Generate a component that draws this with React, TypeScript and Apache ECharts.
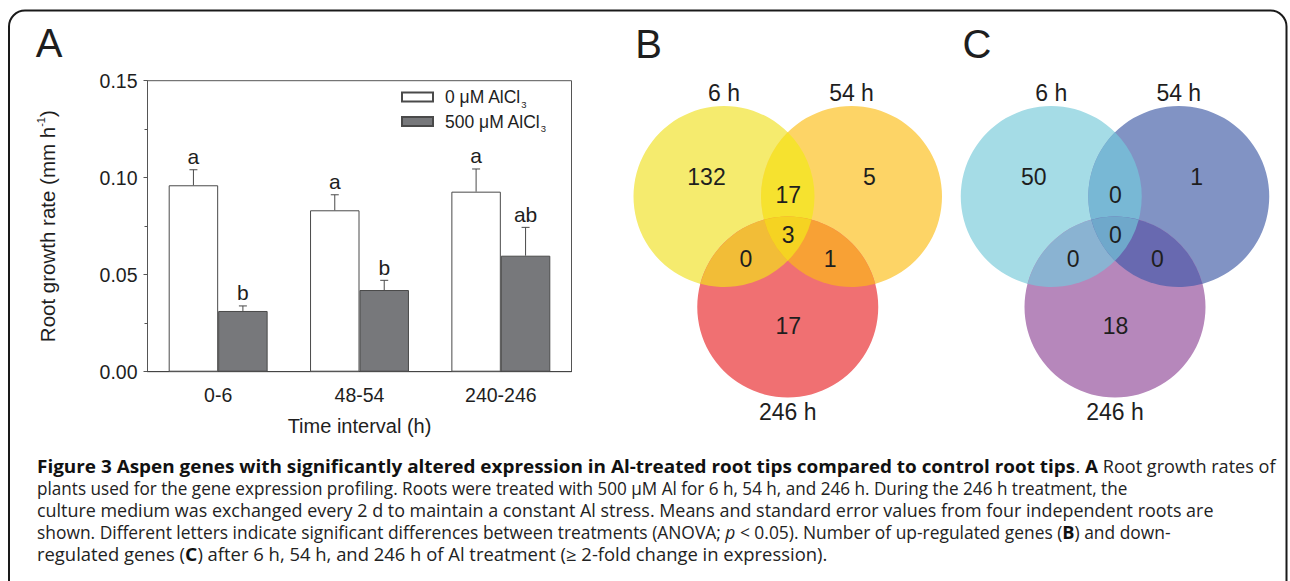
import React, { useEffect, useRef } from 'react';
import * as echarts from 'echarts';

// ---------- Panel A data ----------
const categories = ['0-6', '48-54', '240-246'];
const seriesNames = ['0 μM AlCl3', '500 μM AlCl3'];
const ctrlMean = [0.0961, 0.0832, 0.0928];
const ctrlErr = [0.008, 0.008, 0.0117];
const ctrlLetters = ['a', 'a', 'a'];
const alMean = [0.0313, 0.0421, 0.0598];
const alErr = [0.0026, 0.005, 0.0146];
const alLetters = ['b', 'b', 'ab'];
const yMin = 0;
const yMax = 0.15;
const yInterval = 0.05;

// ---------- Venn data ----------
const vennSetLabels = ['6 h', '54 h', '246 h'];
const regionKeys = ['A', 'B', 'C', 'AB', 'AC', 'BC', 'ABC'];
const upRegulated = [132, 5, 17, 17, 0, 1, 3];
const downRegulated = [50, 1, 18, 0, 0, 0, 0];
const upColors = ['#f5eb6e', '#fdd466', '#f07072', '#f6e22f', '#f2bd37', '#f8a135', '#f5d322'];
const downColors = ['#a5dce6', '#8193c4', '#b687bb', '#78b8d5', '#8ab3d2', '#6869b0', '#6fa8cb'];

// ---------- Caption ----------
const captionLines = [
  '{b|Figure 3 Aspen genes with significantly altered expression in Al-treated root tips compared to control root tips}{r|. }{b|A}{r| Root growth rates of}',
  '{r|plants used for the gene expression profiling. Roots were treated with 500 μM Al for 6 h, 54 h, and 246 h. During the 246 h treatment, the}',
  '{r|culture medium was exchanged every 2 d to maintain a constant Al stress. Means and standard error values from four independent roots are}',
  '{r|shown. Different letters indicate significant differences between treatments (ANOVA; }{i|p}{r| < 0.05). Number of up-regulated genes (}{b|B}{r|) and down-}',
  '{r|regulated genes (}{b|C}{r|) after 6 h, 54 h, and 246 h of Al treatment (≥ 2-fold change in expression).}',
];

const FONT = '"Liberation Sans", Arial, Helvetica, sans-serif';
const CAP_FONT = '"Open Sans", "Noto Sans", sans-serif';
const TXT = '#1e1e1e';
const CAP_SIZE = 17.4;
const CAP_BOLD_SIZE = 18.2;
const capY = [466, 488, 510, 532, 554];
const capScaleX = [1.04, 0.985, 1.03, 1.0, 1.06];

// layout constants
const R = 90.5;
const DX = 63.75;
const DY = 110.5;
const labelOffsets: Record<string, [number, number]> = {
  A: [-17.5, -19.5],
  B: [18, -19.5],
  C: [0.5, 19],
  AB: [0.5, -2],
  AC: [-10, 7],
  BC: [10.5, 7],
  ABC: [0.5, 1.5],
};

type P = [number, number];

function intersections(p: P, q: P): [P, P] {
  const dx = q[0] - p[0];
  const dy = q[1] - p[1];
  const d = Math.sqrt(dx * dx + dy * dy);
  const a = d / 2;
  const h = Math.sqrt(R * R - a * a);
  const mx = p[0] + dx / 2;
  const my = p[1] + dy / 2;
  const ux = -dy / d;
  const uy = dx / d;
  return [
    [mx + ux * h, my + uy * h],
    [mx - ux * h, my - uy * h],
  ];
}

function dist(a: P, b: P) {
  return Math.hypot(a[0] - b[0], a[1] - b[1]);
}

function sweep(from: P, to: P, o: P) {
  const c = (from[0] - o[0]) * (to[1] - o[1]) - (from[1] - o[1]) * (to[0] - o[0]);
  return c > 0 ? 1 : 0;
}

const f = (p: P) => `${p[0].toFixed(3)} ${p[1].toFixed(3)}`;

function lensPath(p: P, q: P) {
  const [i1, i2] = intersections(p, q);
  return `M ${f(i1)} A ${R} ${R} 0 0 ${sweep(i1, i2, p)} ${f(i2)} A ${R} ${R} 0 0 ${sweep(i2, i1, q)} ${f(i1)} Z`;
}

function nearest(pts: [P, P], ref: P): P {
  return dist(pts[0], ref) < dist(pts[1], ref) ? pts[0] : pts[1];
}

function triplePath(a: P, b: P, c: P) {
  const vAB = nearest(intersections(a, b), c);
  const vBC = nearest(intersections(b, c), a);
  const vCA = nearest(intersections(c, a), b);
  return `M ${f(vAB)} A ${R} ${R} 0 0 ${sweep(vAB, vBC, b)} ${f(vBC)} A ${R} ${R} 0 0 ${sweep(vBC, vCA, c)} ${f(vCA)} A ${R} ${R} 0 0 ${sweep(vCA, vAB, a)} ${f(vAB)} Z`;
}

function textEl(text: string, x: number, y: number, size: number, align = 'center', extra: any = {}) {
  return {
    type: 'text',
    x,
    y,
    silent: true,
    style: {
      text,
      fill: TXT,
      font: `${size}px ${FONT}`,
      fontSize: size,
      fontFamily: FONT,
      align,
      textAlign: align,
      verticalAlign: 'middle',
      textVerticalAlign: 'middle',
      ...extra,
    },
  };
}

function buildVenn(prefix: string, cx0: number, cy0: number, counts: number[], colors: string[]) {
  const A: P = [cx0 - DX, cy0];
  const B: P = [cx0 + DX, cy0];
  const C: P = [cx0, cy0 + DY];
  const centers: Record<string, P> = { A, B, C };
  const els: any[] = [];
  ['A', 'B', 'C'].forEach((k) => {
    const i = regionKeys.indexOf(k);
    els.push({
      type: 'circle',
      silent: true,
      shape: { cx: centers[k][0], cy: centers[k][1], r: R },
      style: { fill: colors[i] },
    });
  });
  const pairs: [string, P, P][] = [
    ['AB', A, B],
    ['AC', A, C],
    ['BC', B, C],
  ];
  pairs.forEach(([k, p, q]) => {
    const name = `${prefix}_${k}`;
    echarts.graphic.registerShape(name, echarts.graphic.extendPath(lensPath(p, q), {}) as any);
    els.push({ type: name, silent: true, x: 0, y: 0, style: { fill: colors[regionKeys.indexOf(k)] } });
  });
  const tname = `${prefix}_ABC`;
  echarts.graphic.registerShape(tname, echarts.graphic.extendPath(triplePath(A, B, C), {}) as any);
  els.push({ type: tname, silent: true, x: 0, y: 0, style: { fill: colors[regionKeys.indexOf('ABC')] } });

  const anchor = (k: string): P => {
    if (k.length === 1) return centers[k];
    const pts = k.split('').map((c) => centers[c]);
    return [
      pts.reduce((s, p) => s + p[0], 0) / pts.length,
      pts.reduce((s, p) => s + p[1], 0) / pts.length,
    ];
  };
  regionKeys.forEach((k, i) => {
    const an = anchor(k);
    const off = labelOffsets[k];
    els.push(textEl(String(counts[i]), an[0] + off[0], an[1] + off[1], 23));
  });
  els.push(textEl(vennSetLabels[0], A[0], 93, 23));
  els.push(textEl(vennSetLabels[1], B[0], 93, 23));
  els.push(textEl(vennSetLabels[2], C[0], 411.5, 23));
  return els;
}

export default function App() {
  const ref = useRef<HTMLDivElement>(null);

  useEffect(() => {
    document.body.style.margin = '0';
    if (!ref.current) return;
    const chart = echarts.init(ref.current, undefined, { renderer: 'svg' });

    const errSeries = (means: number[], errs: number[], letters: string[], side: number, name: string) => ({
      type: 'custom',
      name,
      z: 5,
      silent: true,
      data: means.map((m, i) => [i, m, errs[i]]),
      renderItem: (params: any, api: any) => {
        const idx = api.value(0);
        const m = api.value(1);
        const e = api.value(2);
        const letter = letters[idx];
        const catW = api.size([1, 0])[0];
        const base = api.coord([idx, m]);
        const top = api.coord([idx, m + e]);
        const x = base[0] + side * catW * 0.175;
        return {
          type: 'group',
          children: [
            {
              type: 'line',
              shape: { x1: x, y1: base[1], x2: x, y2: top[1] },
              style: { stroke: '#4a4a4a', lineWidth: 1 },
            },
            {
              type: 'line',
              shape: { x1: x - 4, y1: top[1], x2: x + 4, y2: top[1] },
              style: { stroke: '#4a4a4a', lineWidth: 1 },
            },
            {
              type: 'text',
              x,
              y: top[1] - 13,
              style: {
                text: letter,
                fill: TXT,
                font: `21px ${FONT}`,
                align: 'center',
                textAlign: 'center',
                verticalAlign: 'middle',
                textVerticalAlign: 'middle',
              },
            },
          ],
        };
      },
    });

    const graphicEls: any[] = [
      {
        type: 'rect',
        silent: true,
        shape: { x: 9, y: 10.5, width: 1277.5, height: 700, r: 16 },
        style: { fill: 'none', stroke: '#1a1a1a', lineWidth: 2 },
      },
      textEl('A', 49, 42.5, 40),
      textEl('B', 648.5, 43.5, 40),
      textEl('C', 977, 43.5, 40),
      ...buildVenn('vennUp', 787.75, 196.5, upRegulated, upColors),
      ...buildVenn('vennDown', 1115, 196.5, downRegulated, downColors),
    ];

    captionLines.forEach((line, i) => {
      graphicEls.push({
        type: 'text',
        x: 37,
        y: capY[i],
        scaleX: capScaleX[i],
        silent: true,
        style: {
          text: line,
          fill: '#222',
          font: `${CAP_SIZE}px ${CAP_FONT}`,
          align: 'left',
          textAlign: 'left',
          verticalAlign: 'middle',
          textVerticalAlign: 'middle',
          rich: {
            b: { fontFamily: CAP_FONT, fontSize: CAP_BOLD_SIZE, fontWeight: 'bold', fill: '#111', lineHeight: 19 },
            r: { fontFamily: CAP_FONT, fontSize: CAP_SIZE, fill: '#222', lineHeight: 19 },
            i: { fontFamily: CAP_FONT, fontSize: CAP_SIZE, fontStyle: 'italic', fill: '#222', lineHeight: 19 },
          },
        },
      });
    });

    chart.setOption({
      animation: false,
      textStyle: { fontFamily: FONT, color: TXT },
      grid: {
        left: 147.5,
        top: 80.7,
        right: 718.5,
        bottom: 209.3,
        show: true,
        borderColor: '#555',
        borderWidth: 1,
        backgroundColor: 'transparent',
      },
      legend: {
        orient: 'vertical',
        left: 401,
        top: 88,
        padding: 0,
        itemGap: 3.5,
        itemWidth: 31,
        itemHeight: 9,
        icon: 'rect',
        data: seriesNames,
        selectedMode: false,
        formatter: (name: string) => {
          const m = name.match(/^(.*?)(\d)$/);
          if (!m) return name;
          return `{t|${m[1]}}{s|${m[2]}}`;
        },
        textStyle: {
          color: TXT,
          rich: {
            t: { fontFamily: FONT, fontSize: 17.5, color: TXT, lineHeight: 18, verticalAlign: 'top', padding: [0, 0, 0, 7] },
            s: { fontFamily: FONT, fontSize: 9.5, color: TXT, lineHeight: 9, verticalAlign: 'top', padding: [11, 0, 0, 0] },
          },
        },
      },
      xAxis: {
        type: 'category',
        data: categories,
        name: 'Time interval (h)',
        nameLocation: 'middle',
        nameGap: 44,
        nameTextStyle: { fontFamily: FONT, fontSize: 20, color: TXT },
        axisLine: { lineStyle: { color: '#444', width: 1 } },
        axisTick: { alignWithLabel: true, length: 4, lineStyle: { color: '#444' } },
        axisLabel: { fontFamily: FONT, fontSize: 19.5, color: TXT, margin: 13 },
        splitLine: { show: false },
      },
      yAxis: {
        type: 'value',
        min: yMin,
        max: yMax,
        interval: yInterval,
        name: '{n|Root growth rate (mm h}{s|-1}{n|)}',
        nameLocation: 'middle',
        nameGap: 90,
        nameRotate: 90,
        nameTextStyle: {
          rich: {
            n: { fontFamily: FONT, fontSize: 20.5, color: TXT, lineHeight: 22, verticalAlign: 'bottom' },
            s: { fontFamily: FONT, fontSize: 11, color: TXT, lineHeight: 11, verticalAlign: 'top' },
          },
        },
        axisLine: { show: true, lineStyle: { color: '#555', width: 1 } },
        axisTick: { show: true, length: 4, lineStyle: { color: '#555' } },
        minorTick: { show: true, splitNumber: 2, length: 3, lineStyle: { color: '#555' } },
        axisLabel: {
          fontFamily: FONT,
          fontSize: 19.5,
          color: TXT,
          margin: 10,
          formatter: (v: number) => v.toFixed(2),
        },
        splitLine: { show: false },
      },
      series: [
        {
          type: 'bar',
          name: seriesNames[0],
          data: ctrlMean,
          barGap: '0%',
          barCategoryGap: '30%',
          itemStyle: { color: '#ffffff', borderColor: '#4a4a4a', borderWidth: 1 },
        },
        {
          type: 'bar',
          name: seriesNames[1],
          data: alMean,
          barGap: '0%',
          barCategoryGap: '30%',
          itemStyle: { color: '#77787b', borderColor: '#4a4a4a', borderWidth: 1 },
        },
        errSeries(ctrlMean, ctrlErr, ctrlLetters, -1, 'err-ctrl'),
        errSeries(alMean, alErr, alLetters, 1, 'err-al'),
      ],
      graphic: { elements: graphicEls },
    });

    return () => {
      chart.dispose();
    };
  }, []);

  return <div ref={ref} style={{ width: 1290, height: 581 }} />;
}
